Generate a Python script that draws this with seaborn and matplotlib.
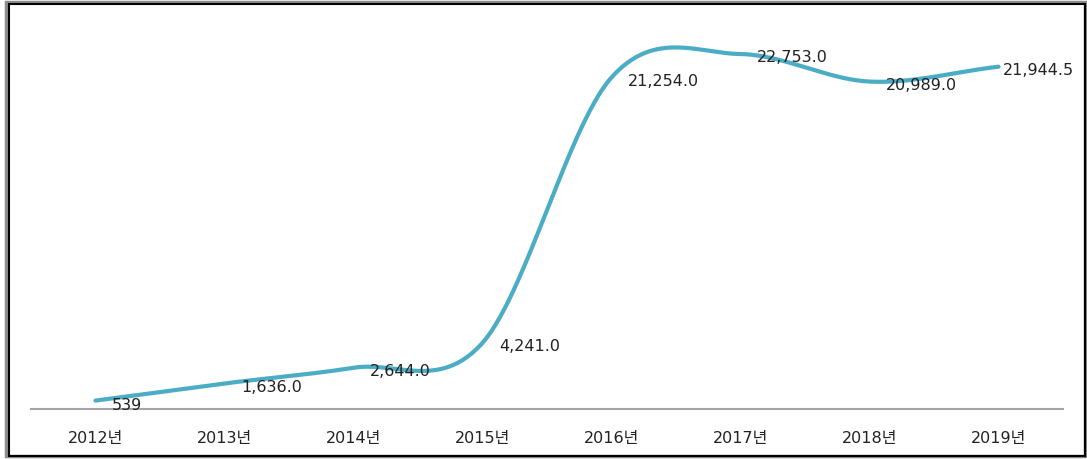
import numpy as np
import pandas as pd
import matplotlib
matplotlib.use("Agg")
import matplotlib.pyplot as plt
import seaborn as sns
from matplotlib.patches import Rectangle

categories = ["2012년", "2013년", "2014년", "2015년", "2016년", "2017년", "2018년", "2019년"]
values = [539, 1636.0, 2644.0, 4241.0, 21254.0, 22753.0, 20989.0, 21944.5]
labels = ["539", "1,636.0", "2,644.0", "4,241.0", "21,254.0", "22,753.0", "20,989.0", "21,944.5"]

sns.set_theme(style="white")
plt.rcParams['font.family'] = ['DejaVu Sans', 'Noto Sans CJK KR']

fig = plt.figure(figsize=(10.87, 4.60), dpi=100)
ax = fig.add_axes([31/1087, 50/460, (1063-31)/1087, (440-50)/460])

# Smoothed line (Catmull-Rom / Excel-like smoothing)
x = np.arange(len(values), dtype=float)
y = np.array(values, dtype=float)
xs, ys = [], []
n = len(y)
for i in range(n - 1):
    y0 = y[i - 1] if i > 0 else y[i]
    y3 = y[i + 2] if i + 2 < n else y[i + 1]
    m0 = (y[i + 1] - y0) / 2 if i > 0 else (y[i + 1] - y[i])
    m1 = (y3 - y[i]) / 2 if i + 2 < n else (y[i + 1] - y[i])
    t = np.linspace(0, 1, 60)
    h00 = 2*t**3 - 3*t**2 + 1
    h10 = t**3 - 2*t**2 + t
    h01 = -2*t**3 + 3*t**2
    h11 = t**3 - t**2
    xs.extend(x[i] + t)
    ys.extend(h00*y[i] + h10*m0 + h01*y[i+1] + h11*m1)
curve = pd.DataFrame({"x": xs, "y": ys})
sns.lineplot(data=curve, x="x", y="y", ax=ax, color="#4BACC6", linewidth=3.0,
             sort=False, estimator=None)

for i, (v, lab) in enumerate(zip(values, labels)):
    off = 12 if i < len(values) - 1 else 3
    dy = -3 if i == 0 else -2
    ax.annotate(lab, (i, v), xytext=(off, dy), textcoords="offset points",
                ha="left", va="center", fontsize=11.5, color="#222222")

ax.set_xlim(-0.5, 7.5)
ax.set_ylim(0, 25000)
ax.set_xticks(range(len(categories)))
ax.set_xticklabels(categories, fontsize=11.5, color="#222222")
ax.set_yticks([])
ax.set_xlabel("")
ax.set_ylabel("")
ax.tick_params(axis="x", length=0, pad=15)
for s in ["top", "right", "left"]:
    ax.spines[s].set_visible(False)
ax.spines["bottom"].set_color("#A6A6A6")
ax.spines["bottom"].set_linewidth(1.5)

# Figure frame with shadow (top/left)
fig.patches.append(Rectangle((6/1087, 3/460), (1084.5-6)/1087, (457.5-3)/460,
                             transform=fig.transFigure, fill=False,
                             edgecolor="#8C8C8C", linewidth=2.5))
fig.patches.append(Rectangle((8.5/1087, 3/460), (1084.5-8.5)/1087, (455.5-3)/460,
                             transform=fig.transFigure, fill=False,
                             edgecolor="black", linewidth=1.5))

fig.savefig("out.png", dpi=100)
